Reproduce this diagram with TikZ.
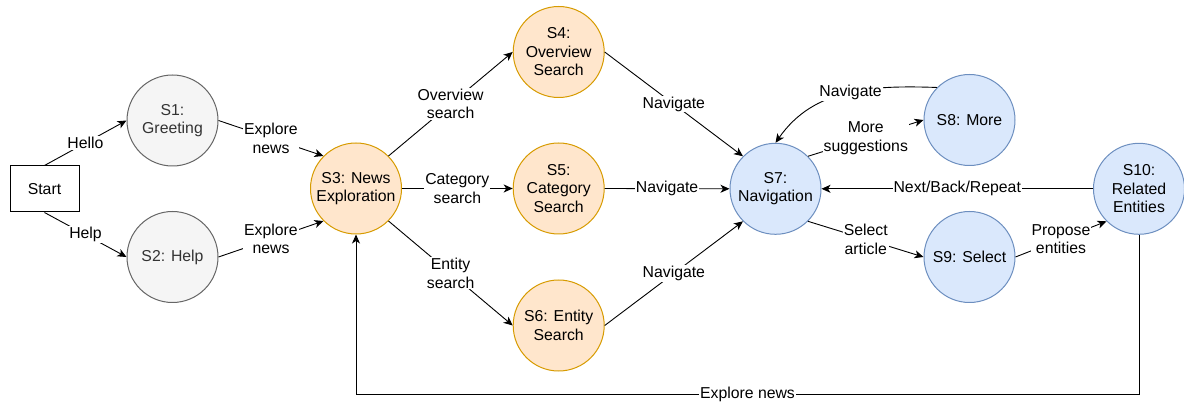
\documentclass[tikz,border=0pt]{standalone}
\usepackage{fontspec}
\setmainfont{Liberation Sans}
\usetikzlibrary{arrows.meta,positioning}
\definecolor{greyfill}{HTML}{F5F5F5}
\definecolor{greyline}{HTML}{666666}
\definecolor{greytext}{HTML}{333333}
\definecolor{orangefill}{HTML}{FFE6CC}
\definecolor{orangeline}{HTML}{D79B00}
\definecolor{bluefill}{HTML}{DAE8FC}
\definecolor{blueline}{HTML}{6C8EBF}

\begin{document}
\begin{tikzpicture}[x=1pt,y=-1pt,
    every node/.style={font=\fontsize{15.8}{18.5}\selectfont},
    state/.style={circle, line width=1pt, minimum size=91pt, inner sep=0pt, align=center},
    greystate/.style={state, draw=greyline, fill=greyfill, text=greytext},
    orangestate/.style={state, draw=orangeline, fill=orangefill},
    bluestate/.style={state, draw=blueline, fill=bluefill},
    arr/.style={line width=0.9pt, -{Stealth[length=9pt,width=8pt,inset=2.5pt]}},
    lbl/.style={fill=white, inner sep=1pt, align=center}]
        \useasboundingbox (0,0) rectangle (1184,403);
        % entry and the two opening states
        \node[draw, line width=1pt, minimum width=69pt, minimum height=46pt] (start) at (44.5,189) {Start};
        \node[greystate] (s1) at (172.5,120.5) {S1:\\Greeting};
        \node[greystate] (s2) at (172.5,257) {S2: Help};
        % exploration and the three searches
        \node[orangestate] (s3) at (356,188.5) {S3: News\\Exploration};
        \node[orangestate] (s4) at (558.7,52) {S4:\\Overview\\Search};
        \node[orangestate] (s5) at (558.7,188.5) {S5:\\Category\\Search};
        \node[orangestate] (s6) at (558.7,325.5) {S6: Entity\\Search};
        % navigation part
        \node[bluestate] (s7) at (775.5,188.8) {S7:\\Navigation};
        \node[bluestate] (s8) at (969.5,120) {S8: More};
        \node[bluestate] (s9) at (969.5,257) {S9: Select};
        \node[bluestate] (s10) at (1139,188.8) {S10:\\Related\\Entities};
        \coordinate (back) at (0,394.3);

        \draw[arr] (start.north) -- (s1.west) node[lbl, pos=0.5]{Hello};
        \draw[arr] (start.south) -- (s2.west) node[lbl, pos=0.5]{Help};
        \draw[arr] (s1.east) -- (s3.north west) node[lbl, pos=0.5]{Explore\\news};
        \draw[arr] (s2.east) -- (s3.south west) node[lbl, pos=0.5]{Explore\\news};
        \draw[arr] (s3.north east) -- (s4.west) node[lbl, pos=0.5]{Overview\\search};
        \draw[arr] (s3.east) -- (s5.west) node[lbl, pos=0.5]{Category\\search};
        \draw[arr] (s3.south east) -- (s6.west) node[lbl, pos=0.5]{Entity\\search};
        \draw[arr] (s4.east) -- (s7.north west) node[lbl, pos=0.5]{Navigate};
        \draw[arr] (s5.east) -- (s7.west) node[lbl, pos=0.5]{Navigate};
        \draw[arr] (s6.east) -- (s7.south west) node[lbl, pos=0.5]{Navigate};
        \draw[arr] (s7.north east) -- (s8.west) node[lbl, pos=0.5]{More\\suggestions};
        \draw[arr] (s8.north west) to[out=178, in=55] node[lbl, pos=0.47]{Navigate} (s7.north);
        \draw[arr] (s7.south east) -- (s9.west) node[lbl, pos=0.5]{Select\\article};
        \draw[arr] (s9.east) -- (s10.south west) node[lbl, pos=0.5]{Propose\\entities};
        \draw[arr] (s10.west) -- (s7.east) node[lbl, pos=0.5]{Next/Back/Repeat};
        % back to exploration
        \draw[arr] (s10.south) |- (s3.south |- back) node[lbl, pos=0.75]{Explore news} -- (s3.south);
\end{tikzpicture}
\end{document}
